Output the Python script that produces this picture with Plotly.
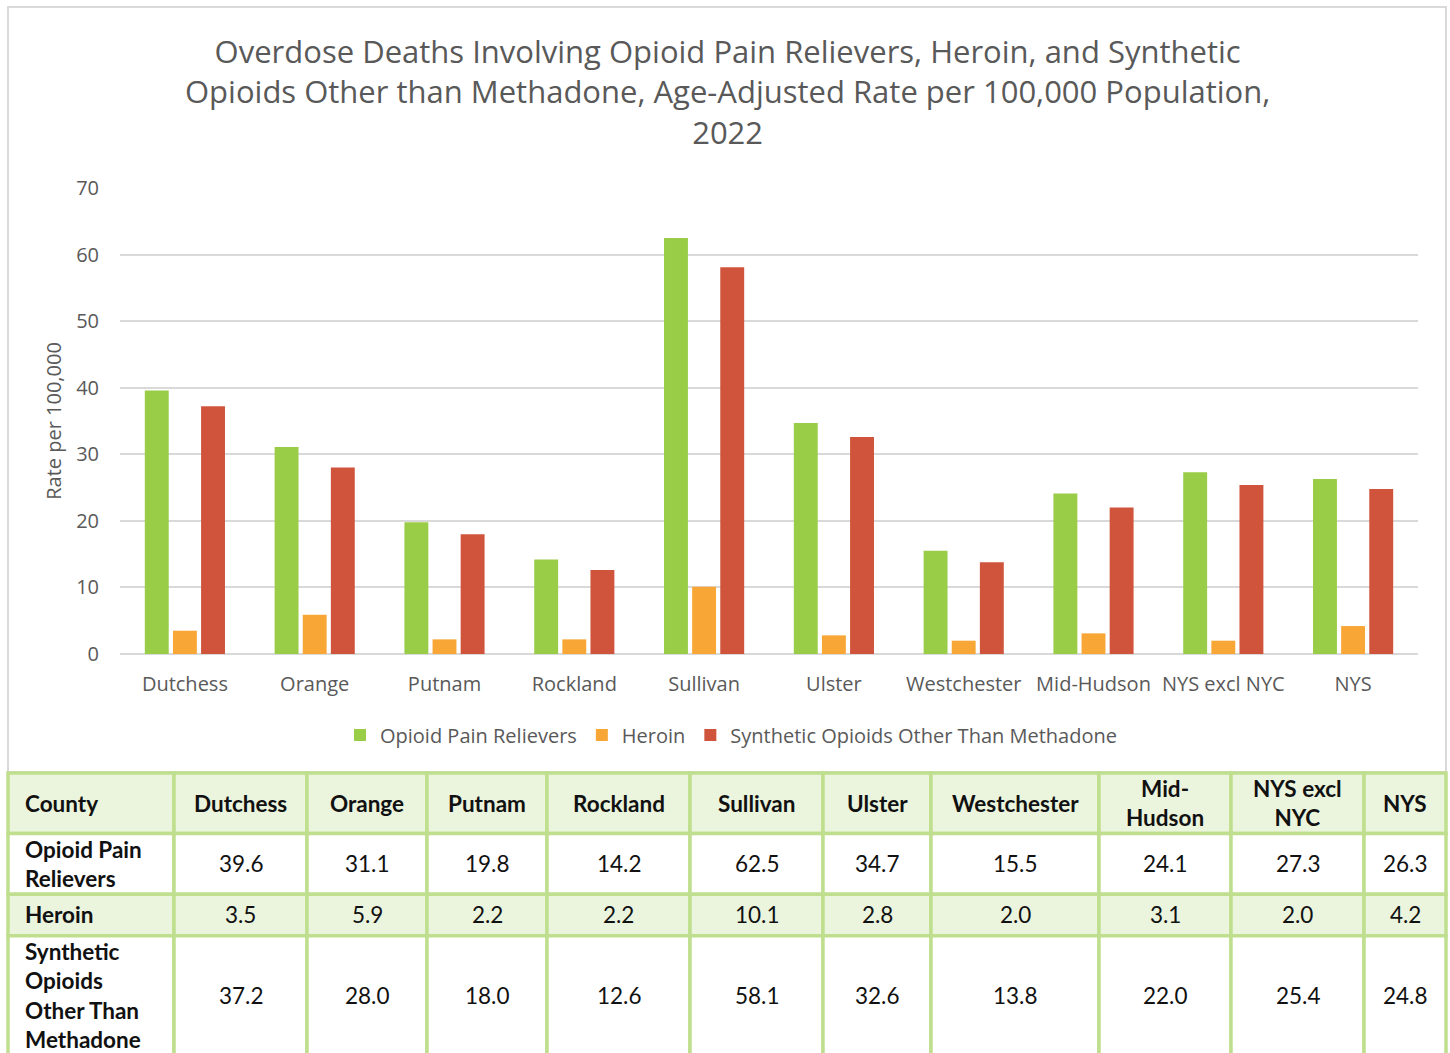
import plotly.graph_objects as go

W, H = 1450, 1053

counties = ["Dutchess", "Orange", "Putnam", "Rockland", "Sullivan", "Ulster",
            "Westchester", "Mid-Hudson", "NYS excl NYC", "NYS"]
header_labels = ["County", "Dutchess", "Orange", "Putnam", "Rockland", "Sullivan", "Ulster",
                 "Westchester", "Mid-<br>Hudson", "NYS excl<br>NYC", "NYS"]
series_names = ["Opioid Pain Relievers", "Heroin", "Synthetic Opioids Other Than Methadone"]
row_labels = ["Opioid Pain<br>Relievers", "Heroin", "Synthetic<br>Opioids<br>Other Than<br>Methadone"]

opioid_pain = [39.6, 31.1, 19.8, 14.2, 62.5, 34.7, 15.5, 24.1, 27.3, 26.3]
heroin = [3.5, 5.9, 2.2, 2.2, 10.1, 2.8, 2.0, 3.1, 2.0, 4.2]
synthetic = [37.2, 28.0, 18.0, 12.6, 58.1, 32.6, 13.8, 22.0, 25.4, 24.8]

y_ticks = [0, 10, 20, 30, 40, 50, 60, 70]

# ---- styles ----
colors = ["#99CC47", "#F8A636", "#D0543C"]
GREY = "#595959"
TBL_LINE = "#C0DF8E"
TBL_FILL = "#EBF4DD"
col_widths = [166, 133, 120, 120, 143, 133, 108, 168, 132, 133, 82]
row_heights = [61, 61, 42, 120]
row_fills = [TBL_FILL, "white", TBL_FILL, "white"]

fig = go.Figure()
for name, vals, col in zip(series_names, [opioid_pain, heroin, synthetic], colors):
    fig.add_trace(go.Bar(x=counties, y=vals, name=name, marker_color=col,
                         marker_line_width=0, xaxis="x", yaxis="y"))

# ---- table drawn on its own axes (x2 / y2, pixel-like units) ----
series_all = [opioid_pain, heroin, synthetic]
table_rows = [[f"<b>{h}</b>" for h in header_labels]]
for lbl, s in zip(row_labels, series_all):
    table_rows.append([f"<b>{lbl}</b>"] + [f"{v:.1f}" for v in s])

col_edges = [0]
for w in col_widths:
    col_edges.append(col_edges[-1] + w)
row_edges = [0]
for h in row_heights:
    row_edges.append(row_edges[-1] + h)

shapes = []
annotations = []
for r, row in enumerate(table_rows):
    y0, y1 = row_edges[r], row_edges[r + 1]
    for c, txt in enumerate(row):
        x0, x1 = col_edges[c], col_edges[c + 1]
        shapes.append(dict(type="rect", xref="x2", yref="y2", x0=x0, x1=x1, y0=y0,
                           y1=y1 + (10 if r == len(table_rows) - 1 else 0),
                           fillcolor=row_fills[r], line=dict(color=TBL_LINE, width=3.5),
                           layer="below"))
        first = (c == 0)
        annotations.append(dict(
            xref="x2", yref="y2", x=(x0 + 15) if first else (x0 + x1) / 2, y=(y0 + y1) / 2,
            text=txt, showarrow=False, xanchor="left" if first else "center", yanchor="middle",
            align="left" if first else "center",
            font=dict(family="Lato", size=22.5, color="#111111")))

# chart frame
shapes.append(dict(type="rect", xref="paper", yref="paper", x0=8 / W, x1=1446 / W,
                   y0=(H - 772) / H, y1=1 - 7 / H, line=dict(color="#D9D9D9", width=2),
                   layer="below"))

annotations.append(dict(
    xref="paper", yref="paper", x=727 / W, y=(H - 92) / H, xanchor="center", yanchor="middle",
    showarrow=False, align="center",
    text="Overdose Deaths Involving Opioid Pain Relievers, Heroin, and Synthetic<br>"
         "Opioids Other than Methadone, Age-Adjusted Rate per 100,000 Population,<br>2022",
    font=dict(family="Open Sans", size=31, color=GREY)))

fig.update_layout(
    width=W, height=H,
    margin=dict(l=0, r=0, t=0, b=0, autoexpand=False),
    paper_bgcolor="white", plot_bgcolor="rgba(0,0,0,0)",
    font=dict(family="Open Sans", color=GREY),
    barmode="group", bargap=0.35, bargroupgap=0.15,
    xaxis=dict(domain=[120 / W, 1418 / W], showgrid=False, showline=False, ticks="",
               tickfont=dict(size=20, color=GREY), anchor="y", automargin=False,
               ticklabelstandoff=16),
    yaxis=dict(domain=[(H - 654) / H, (H - 188) / H], range=[0, 70], tickvals=y_ticks,
               showgrid=True, gridcolor="#D9D9D9", gridwidth=1.5, zeroline=True,
               zerolinecolor="#D9D9D9", zerolinewidth=1.5, showline=False, ticks="",
               tickfont=dict(size=20, color=GREY), ticklabelstandoff=20, automargin=False,
               title=dict(text="Rate per 100,000", font=dict(size=20, color=GREY), standoff=9)),
    xaxis2=dict(domain=[6 / W, 1448 / W], range=[-2, col_edges[-1] + 2], visible=False,
                anchor="y2", fixedrange=True),
    yaxis2=dict(domain=[0, (H - 771) / H], range=[282, -2], visible=False,
                anchor="x2", fixedrange=True),
    legend=dict(orientation="h", x=731 / W, xanchor="center", y=(H - 735) / H, yanchor="middle",
                font=dict(size=20, color=GREY), traceorder="normal", itemwidth=30),
    shapes=shapes,
    annotations=annotations,
)

fig.write_html("out.html", config={"displayModeBar": False},
               post_script="document.body.style.margin='0px';")
